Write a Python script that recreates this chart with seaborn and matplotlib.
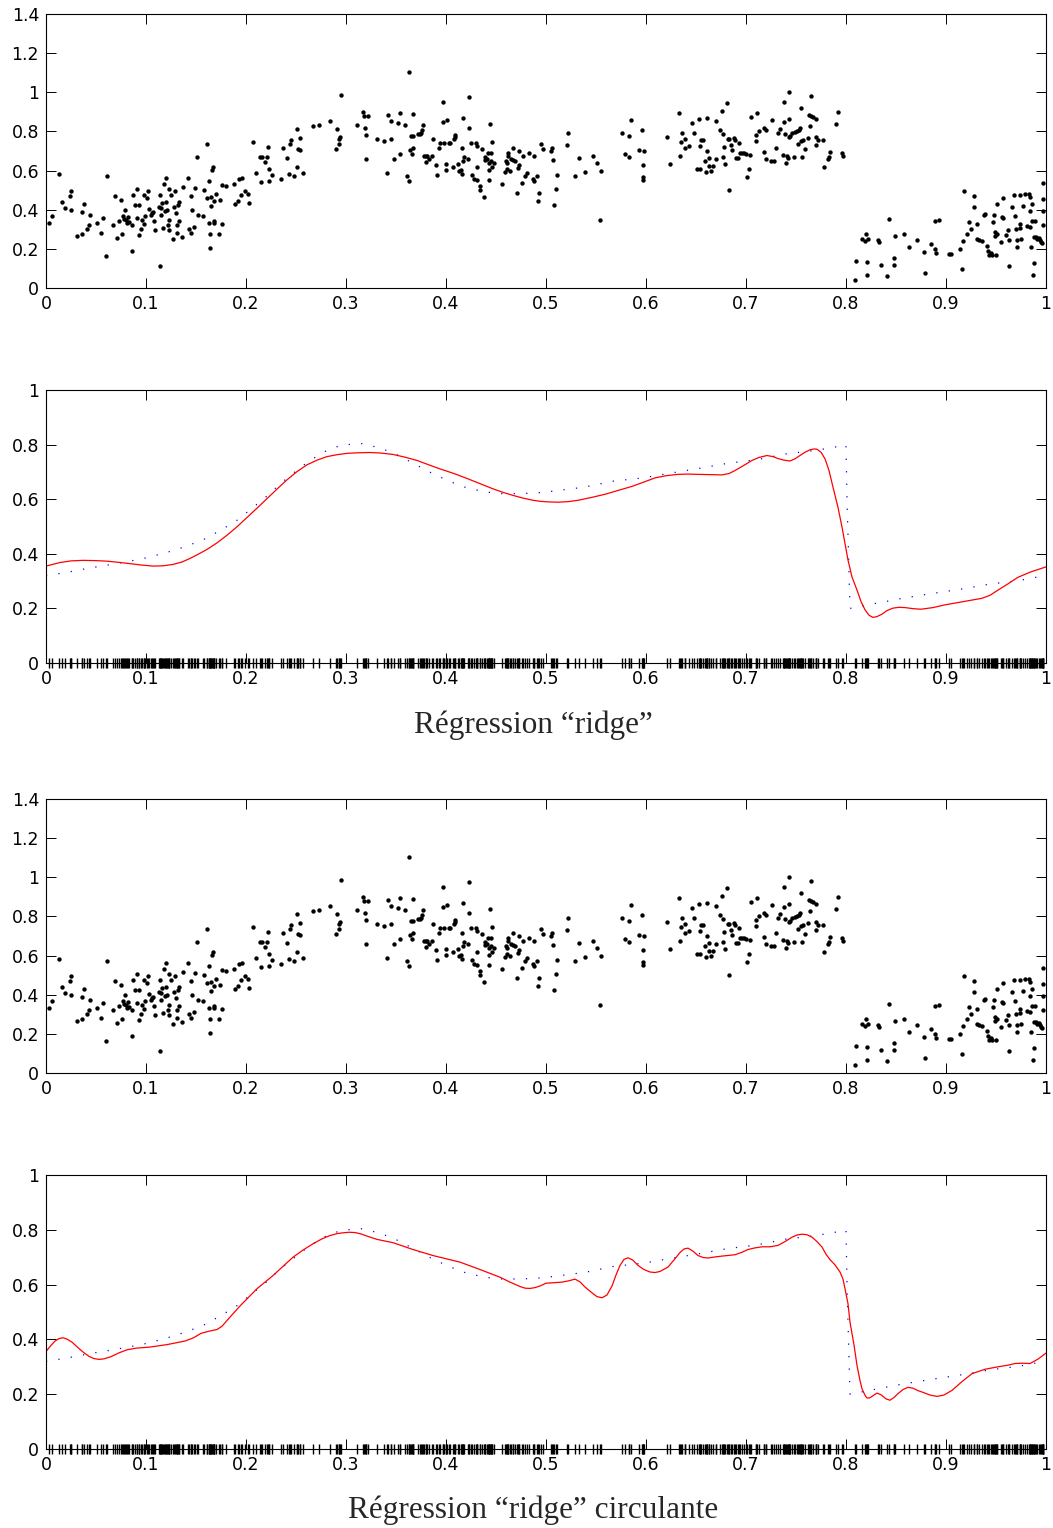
import numpy as np
import pandas as pd
import matplotlib
matplotlib.use("Agg")
from matplotlib import pyplot as plt
import seaborn as sns

sns.set_style("white")
plt.rcParams['font.family'] = ['DejaVu Sans']
plt.rcParams['axes.linewidth'] = 0.8

# noisy samples (x, y), left to right
pts_a = [(0.003,0.33),(0.006,0.37),(0.013,0.585),(0.016,0.44),(0.019,0.41),(0.024,0.47),(0.025,0.495),(0.025,0.40),
         (0.031,0.265),(0.036,0.275),(0.036,0.386),(0.038,0.43),(0.041,0.30),(0.043,0.32),(0.044,0.373),(0.051,0.33),
         (0.055,0.283),(0.057,0.357),(0.060,0.165),(0.061,0.574),(0.067,0.32),(0.069,0.468),(0.071,0.254),(0.073,0.34),
         (0.075,0.448),(0.076,0.276),(0.077,0.368),(0.078,0.354),(0.079,0.40),(0.080,0.347),(0.081,0.334),(0.082,0.361),
         (0.083,0.337),(0.086,0.323),(0.086,0.189),(0.087,0.477),(0.089,0.426),(0.091,0.507),(0.091,0.357),(0.093,0.426),
         (0.093,0.272),(0.095,0.30),(0.096,0.347),(0.098,0.474),(0.098,0.325),(0.099,0.368),(0.101,0.458),(0.102,0.497),
         (0.103,0.402),(0.105,0.373),(0.106,0.381),(0.107,0.388),(0.108,0.344),(0.109,0.296),(0.113,0.414),(0.114,0.112),
         (0.114,0.477),(0.115,0.409),(0.115,0.373),(0.116,0.436),(0.117,0.305),(0.118,0.531),(0.119,0.391),(0.120,0.562),
         (0.120,0.440),(0.121,0.397),(0.122,0.32),(0.123,0.507),(0.123,0.347),(0.123,0.296),(0.125,0.477),(0.127,0.252),
         (0.128,0.415),(0.129,0.494),(0.130,0.385),(0.131,0.32),(0.131,0.279),(0.132,0.426),(0.133,0.44),(0.133,0.34),
         (0.136,0.262),(0.137,0.514),(0.142,0.562),(0.143,0.30),(0.145,0.472),(0.145,0.279),(0.146,0.40),(0.148,0.313),
         (0.149,0.512),(0.151,0.667),(0.152,0.374),(0.157,0.366),(0.158,0.50),(0.161,0.737),(0.161,0.461),(0.163,0.334),
         (0.163,0.545),(0.164,0.204),(0.164,0.274),(0.165,0.463),(0.165,0.419),(0.166,0.601),(0.167,0.618),(0.168,0.344),
         (0.168,0.33),(0.168,0.443),(0.170,0.482),(0.173,0.276),(0.174,0.448),(0.176,0.327),(0.176,0.526),(0.180,0.523),
         (0.188,0.533),(0.189,0.429),(0.192,0.443),(0.193,0.559),(0.196,0.562),(0.195,0.474),(0.199,0.497),(0.202,0.48),
         (0.203,0.434)]
pts_b = [(0.207,0.747),(0.210,0.587),(0.214,0.667),(0.215,0.543),(0.216,0.667),(0.219,0.642),(0.221,0.667),(0.222,0.72),
         (0.223,0.609),(0.223,0.545),(0.226,0.577),(0.235,0.555),(0.237,0.717),(0.241,0.662),(0.243,0.584),(0.244,0.734),
         (0.245,0.757),(0.248,0.572),(0.251,0.812),(0.251,0.618),(0.252,0.708),(0.254,0.705),(0.254,0.766),(0.257,0.589),
         (0.267,0.829),(0.273,0.834),(0.284,0.851),(0.290,0.71),(0.291,0.81),(0.293,0.737),(0.293,0.761),(0.294,0.774),
         (0.295,0.986),(0.311,0.832),(0.317,0.90),(0.318,0.878),(0.319,0.819),(0.320,0.781),(0.320,0.657),(0.322,0.877),
         (0.331,0.761),(0.338,0.749),(0.341,0.589),(0.342,0.885),(0.345,0.853),(0.345,0.761),(0.348,0.657),(0.352,0.843),
         (0.354,0.684),(0.354,0.894),(0.359,0.834),(0.361,0.574),(0.363,0.548),(0.363,1.103),(0.364,0.706),(0.365,0.776),
         (0.366,0.684),(0.367,0.776),(0.367,0.888),(0.367,0.715),(0.372,0.785),(0.374,0.788),(0.375,0.79),(0.376,0.805),
         (0.377,0.834),(0.378,0.672),(0.380,0.674),(0.380,0.643),(0.381,0.676),(0.383,0.657),(0.386,0.674),(0.387,0.761),
         (0.390,0.628),(0.391,0.577),(0.393,0.713),(0.394,0.742),(0.397,0.848),(0.397,0.95),(0.398,0.739),(0.400,0.604),
         (0.400,0.635),(0.401,0.858),(0.403,0.74)]
pts_c = [(0.404,0.74),(0.407,0.618),(0.408,0.759),(0.409,0.773),(0.409,0.78),(0.412,0.633),(0.413,0.599),(0.415,0.601),
         (0.416,0.717),(0.416,0.584),(0.417,0.647),(0.417,0.868),(0.418,0.667),(0.422,0.66),(0.423,0.817),(0.423,0.974),
         (0.425,0.74),(0.426,0.579),(0.428,0.557),(0.430,0.739),(0.431,0.551),(0.431,0.62),(0.431,0.725),(0.434,0.523),
         (0.434,0.499),(0.436,0.708),(0.438,0.463),(0.439,0.652),(0.439,0.671),(0.441,0.66),(0.442,0.688),(0.443,0.551),
         (0.443,0.603),(0.443,0.64),(0.444,0.839),(0.445,0.688),(0.445,0.65),(0.446,0.747),(0.446,0.62),(0.448,0.64),
         (0.456,0.531),(0.459,0.592),(0.460,0.647),(0.461,0.606),(0.461,0.637),(0.462,0.674),(0.462,0.691),(0.464,0.599),
         (0.465,0.659),(0.467,0.717),(0.467,0.652),(0.469,0.647),(0.471,0.485),(0.472,0.614),(0.473,0.631),(0.473,0.701),
         (0.476,0.536),(0.477,0.676),(0.479,0.570),(0.481,0.586),(0.483,0.688),(0.487,0.555),(0.488,0.672),(0.488,0.548),
         (0.491,0.572),(0.492,0.444),(0.493,0.483),(0.495,0.735),(0.497,0.711),(0.505,0.701),(0.506,0.713),(0.507,0.654),
         (0.508,0.422),(0.510,0.507),(0.511,0.579),(0.521,0.730),(0.522,0.791),(0.529,0.574),(0.533,0.664),(0.539,0.594),
         (0.547,0.674),(0.551,0.640),(0.554,0.346),(0.555,0.599),(0.576,0.793),(0.579,0.684),(0.583,0.778),(0.583,0.667),
         (0.585,0.858),(0.593,0.706),(0.596,0.805),(0.597,0.550),(0.597,0.569),(0.597,0.628),(0.598,0.701)]
pts_d = [(0.621,0.774),(0.624,0.635),(0.633,0.894),(0.634,0.676),(0.635,0.744),(0.636,0.79),(0.639,0.715),(0.639,0.763),
         (0.643,0.725),(0.646,0.843),(0.648,0.791),(0.651,0.609),(0.653,0.863),(0.654,0.727),(0.654,0.609),(0.655,0.754),
         (0.657,0.754),(0.659,0.649),(0.660,0.591),(0.661,0.870),(0.661,0.701),(0.663,0.621),(0.663,0.662),(0.665,0.597),
         (0.667,0.621),(0.670,0.657),(0.670,0.853),(0.674,0.809),(0.676,0.906),(0.677,0.786),(0.677,0.669),(0.678,0.718),
         (0.679,0.633),(0.681,0.946),(0.682,0.761),(0.683,0.499),(0.683,0.761),(0.685,0.732),(0.686,0.703),(0.688,0.768),
         (0.689,0.757),(0.690,0.662),(0.692,0.664),(0.693,0.740),(0.694,0.691),(0.696,0.689),(0.698,0.688),(0.700,0.686),
         (0.701,0.567),(0.703,0.609),(0.704,0.681),(0.705,0.875),(0.710,0.752),(0.710,0.780),(0.711,0.895),(0.713,0.802),
         (0.718,0.815),(0.718,0.696),(0.720,0.657),(0.720,0.809),(0.725,0.647),(0.726,0.858),(0.728,0.647),(0.730,0.713),
         (0.732,0.793),(0.734,0.812),(0.737,0.681),(0.738,0.850),(0.738,0.950),(0.739,0.786),(0.740,0.637),(0.741,0.672),
         (0.742,0.662),(0.743,0.773),(0.743,1.003),(0.743,0.865),(0.744,0.776),(0.746,0.793),(0.748,0.669),(0.749,0.795),
         (0.751,0.800),(0.752,0.735),(0.753,0.809),(0.754,0.815),(0.755,0.919),(0.755,0.751),(0.756,0.669),(0.757,0.754),
         (0.759,0.711),(0.762,0.768),(0.764,0.827),(0.763,0.883),(0.765,0.980),(0.765,0.880),(0.767,0.875),(0.770,0.863),
         (0.770,0.774),(0.770,0.730),(0.772,0.754),(0.777,0.754),(0.778,0.616),(0.782,0.659),(0.783,0.671),(0.784,0.694),
         (0.790,0.839),(0.792,0.900),(0.796,0.688),(0.797,0.674)]
pts_e = [(0.809,0.041),(0.810,0.140),(0.816,0.249),(0.819,0.240),(0.820,0.274),(0.821,0.133),(0.821,0.066),(0.822,0.250),
         (0.832,0.243),(0.833,0.235),(0.835,0.119),(0.841,0.061),(0.843,0.354),(0.848,0.155),(0.848,0.116),(0.849,0.267),
         (0.858,0.274),(0.863,0.211),(0.871,0.245),(0.878,0.184),(0.879,0.078),(0.885,0.225),(0.889,0.201),(0.890,0.177),
         (0.889,0.340),(0.893,0.346),(0.903,0.175),(0.905,0.172),(0.914,0.201),(0.916,0.099),(0.917,0.240),(0.918,0.495),
         (0.921,0.274),(0.923,0.339),(0.925,0.30),(0.928,0.470),(0.928,0.414),(0.931,0.327),(0.931,0.252),(0.933,0.245),
         (0.936,0.240),(0.938,0.371),(0.939,0.380),(0.941,0.216),(0.942,0.191),(0.943,0.170),(0.945,0.180),(0.946,0.170),
         (0.947,0.339),(0.948,0.374),(0.949,0.288),(0.949,0.266),(0.950,0.170),(0.951,0.427),(0.951,0.276),(0.955,0.237),
         (0.956,0.364),(0.957,0.356),(0.957,0.460),(0.960,0.272),(0.962,0.294),(0.963,0.112),(0.963,0.247),(0.966,0.414),
         (0.968,0.475),(0.969,0.366),(0.970,0.30),(0.971,0.209),(0.971,0.247),(0.974,0.325),(0.974,0.305),(0.974,0.473),
         (0.975,0.249),(0.977,0.419),(0.979,0.479),(0.981,0.318),(0.983,0.479),(0.984,0.391),(0.984,0.463),(0.984,0.313),
         (0.985,0.211),(0.986,0.427),(0.986,0.340),(0.987,0.066),(0.988,0.259),(0.988,0.129),(0.989,0.344),(0.990,0.259),
         (0.991,0.252),(0.993,0.254),(0.994,0.245),(0.995,0.235),(0.996,0.231),(0.997,0.320),(0.997,0.456),(0.997,0.395),
         (0.997,0.534)]

# true function (blue dotted)
true_x = [0.0, 0.021, 0.042, 0.062, 0.081, 0.10, 0.12, 0.139, 0.157, 0.174, 0.19, 0.205, 0.219, 0.232, 0.246,
          0.261, 0.277, 0.295, 0.315, 0.334, 0.352, 0.369, 0.386, 0.403, 0.419, 0.438, 0.457, 0.478, 0.498,
          0.508, 0.538, 0.567, 0.597, 0.622, 0.652, 0.681, 0.711, 0.740, 0.770, 0.789, 0.800, 0.801,
          0.804, 0.825, 0.855, 0.885, 0.914, 0.944, 0.973, 0.993]
true_y = [0.32, 0.332, 0.347, 0.359, 0.371, 0.385, 0.404, 0.426, 0.451, 0.485, 0.52, 0.564, 0.605, 0.649, 0.692,
          0.734, 0.772, 0.798, 0.804, 0.788, 0.761, 0.728, 0.695, 0.666, 0.644, 0.627, 0.62, 0.621, 0.625,
          0.630, 0.644, 0.666, 0.678, 0.694, 0.712, 0.731, 0.745, 0.766, 0.779, 0.791, 0.799, 0.60,
          0.20, 0.215, 0.236, 0.254, 0.27, 0.289, 0.302, 0.316]

# ridge estimate (red, panel 2)
ridge_x = [0.0, 0.014, 0.025, 0.037, 0.05, 0.061, 0.072, 0.084, 0.095, 0.107, 0.117, 0.127, 0.136, 0.144, 0.152,
           0.161, 0.171, 0.181, 0.191, 0.201, 0.211, 0.221, 0.231, 0.241, 0.251, 0.261, 0.271, 0.281, 0.291,
           0.301, 0.312, 0.324, 0.335, 0.347, 0.359, 0.371, 0.382, 0.394, 0.408, 0.421, 0.434, 0.447, 0.457,
           0.467, 0.477, 0.487, 0.495, 0.503, 0.512, 0.522, 0.532, 0.545, 0.559, 0.572, 0.586, 0.598, 0.609,
           0.620, 0.632, 0.642, 0.652, 0.664, 0.676, 0.683, 0.689, 0.697, 0.706, 0.713, 0.721, 0.727, 0.732,
           0.738, 0.744, 0.749, 0.754, 0.759, 0.764, 0.768, 0.771, 0.775, 0.779, 0.783, 0.787, 0.792, 0.796,
           0.802, 0.806, 0.811, 0.815, 0.819, 0.823, 0.827, 0.831, 0.836, 0.841, 0.847, 0.853, 0.859, 0.867,
           0.875, 0.887, 0.899, 0.919, 0.936, 0.944, 0.952, 0.962, 0.972, 0.985, 1.0]
ridge_y = [0.355, 0.368, 0.374, 0.376, 0.375, 0.373, 0.369, 0.364, 0.359, 0.355, 0.356, 0.361, 0.370, 0.383, 0.398,
           0.416, 0.440, 0.468, 0.499, 0.533, 0.567, 0.602, 0.637, 0.671, 0.701, 0.726, 0.743, 0.756, 0.763,
           0.768, 0.770, 0.771, 0.769, 0.764, 0.754, 0.742, 0.727, 0.711, 0.694, 0.676, 0.657, 0.638, 0.625,
           0.614, 0.604, 0.596, 0.592, 0.590, 0.589, 0.591, 0.596, 0.606, 0.618, 0.632, 0.647, 0.663, 0.678,
           0.686, 0.691, 0.692, 0.691, 0.690, 0.689, 0.694, 0.705, 0.722, 0.742, 0.753, 0.760, 0.756, 0.749,
           0.743, 0.740, 0.748, 0.760, 0.772, 0.781, 0.784, 0.783, 0.772, 0.748, 0.705, 0.644, 0.570, 0.498,
           0.377, 0.315, 0.267, 0.225, 0.195, 0.175, 0.167, 0.170, 0.179, 0.192, 0.201, 0.204, 0.203, 0.199,
           0.197, 0.203, 0.213, 0.226, 0.237, 0.248, 0.267, 0.290, 0.314, 0.334, 0.352]

# circulant ridge estimate (red, panel 4)
circ_x = [0.0, 0.005, 0.009, 0.013, 0.017, 0.021, 0.026, 0.031, 0.037, 0.043, 0.048, 0.053, 0.058, 0.065, 0.073,
          0.081, 0.09, 0.104, 0.121, 0.139, 0.147, 0.155, 0.163, 0.171, 0.176, 0.181, 0.194, 0.211, 0.227,
          0.247, 0.257, 0.267, 0.276, 0.284, 0.291, 0.297, 0.303, 0.309, 0.315, 0.321, 0.331, 0.347, 0.367,
          0.387, 0.414, 0.434, 0.454, 0.464, 0.474, 0.479, 0.484, 0.489, 0.494, 0.50, 0.508, 0.516, 0.523,
          0.529, 0.534, 0.539, 0.546, 0.551, 0.556, 0.561, 0.566, 0.570, 0.574, 0.578, 0.582, 0.587, 0.592,
          0.598, 0.604, 0.609, 0.614, 0.622, 0.628, 0.634, 0.638, 0.642, 0.647, 0.652, 0.657, 0.662, 0.669,
          0.676, 0.689, 0.696, 0.702, 0.709, 0.716, 0.724, 0.732, 0.739, 0.746, 0.751, 0.756, 0.761, 0.766,
          0.771, 0.776, 0.780, 0.784, 0.789, 0.794, 0.797, 0.799, 0.802, 0.804, 0.808, 0.811, 0.814, 0.816,
          0.819, 0.821, 0.824, 0.828, 0.831, 0.835, 0.840, 0.844, 0.848, 0.852, 0.857, 0.862, 0.867, 0.872,
          0.876, 0.884, 0.891, 0.898, 0.906, 0.916, 0.926, 0.939, 0.952, 0.962, 0.969, 0.976, 0.984, 0.992, 1.0]
circ_y = [0.356, 0.378, 0.394, 0.403, 0.406, 0.401, 0.39, 0.373, 0.354, 0.338, 0.330, 0.327, 0.329, 0.337, 0.351,
          0.362, 0.368, 0.372, 0.381, 0.394, 0.405, 0.422, 0.430, 0.436, 0.448, 0.469, 0.522, 0.585, 0.633,
          0.70, 0.726, 0.749, 0.767, 0.779, 0.786, 0.789, 0.791, 0.790, 0.785, 0.777, 0.765, 0.753, 0.728,
          0.706, 0.682, 0.655, 0.627, 0.609, 0.593, 0.587, 0.586, 0.589, 0.595, 0.605, 0.607, 0.609, 0.614,
          0.62, 0.610, 0.591, 0.570, 0.556, 0.552, 0.562, 0.595, 0.635, 0.67, 0.692, 0.698, 0.689, 0.670,
          0.655, 0.646, 0.644, 0.648, 0.664, 0.690, 0.717, 0.730, 0.733, 0.722, 0.706, 0.699, 0.697, 0.701,
          0.704, 0.709, 0.718, 0.728, 0.734, 0.738, 0.738, 0.743, 0.757, 0.773, 0.781, 0.784, 0.782, 0.773,
          0.757, 0.737, 0.711, 0.691, 0.672, 0.646, 0.620, 0.585, 0.53, 0.463, 0.38, 0.305, 0.25, 0.22,
          0.196, 0.186, 0.187, 0.197, 0.204, 0.198, 0.183, 0.178, 0.188, 0.202, 0.217, 0.225, 0.222, 0.213,
          0.208, 0.197, 0.192, 0.197, 0.214, 0.246, 0.275, 0.291, 0.30, 0.306, 0.312, 0.313, 0.312, 0.328, 0.35]

xticks = [0, 0.1, 0.2, 0.3, 0.4, 0.5, 0.6, 0.7, 0.8, 0.9, 1]
xlabels = ['0', '0.1', '0.2', '0.3', '0.4', '0.5', '0.6', '0.7', '0.8', '0.9', '1']
yticks_data = [0, 0.2, 0.4, 0.6, 0.8, 1, 1.2, 1.4]
ylabels_data = ['0', '0.2', '0.4', '0.6', '0.8', '1', '1.2', '1.4']
yticks_fit = [0, 0.2, 0.4, 0.6, 0.8, 1]
ylabels_fit = ['0', '0.2', '0.4', '0.6', '0.8', '1']
captions = ['Régression “ridge”', 'Régression “ridge” circulante']

samples = pd.DataFrame(pts_a + pts_b + pts_c + pts_d + pts_e, columns=['x', 'y'])
truth = pd.DataFrame({'x': true_x, 'y': true_y})
fits = [pd.DataFrame({'x': ridge_x, 'y': ridge_y}), pd.DataFrame({'x': circ_x, 'y': circ_y})]

W, H = 1053, 1528
fig = plt.figure(figsize=(W / 100, H / 100), dpi=100)


def style_axes(ax, yt, yl):
    ax.set_xlim(0, 1)
    ax.set_xticks(xticks)
    ax.set_xticklabels(xlabels)
    ax.set_yticks(yt)
    ax.set_yticklabels(yl)
    ax.set_ylim(yt[0], yt[-1])
    ax.tick_params(direction='in', top=True, right=True, bottom=True, left=True,
                   length=7.5, width=0.7, labelsize=12.5, colors='k')
    ax.tick_params(axis='x', pad=5)
    ax.tick_params(axis='y', pad=5)
    ax.set_xlabel('')
    ax.set_ylabel('')
    for s in ax.spines.values():
        s.set_color('k')
        s.set_linewidth(0.8)


def axes_box(top_px, bottom_px):
    return fig.add_axes([46 / W, 1 - bottom_px / H, 1000 / W, (bottom_px - top_px) / H])


panels = [(14, 288, 390, 663, 725), (799, 1073, 1175, 1449, 1510)]
for k, (t1, b1, t2, b2, cy) in enumerate(panels):
    # scatter of the noisy samples
    ax = axes_box(t1, b1)
    sns.scatterplot(data=samples, x='x', y='y', color='k', s=10, linewidth=0, ax=ax)
    style_axes(ax, yticks_data, ylabels_data)

    # true function + estimate + rug of sample positions
    ax = axes_box(t2, b2)
    sns.lineplot(data=truth, x='x', y='y', color='#0000ff', lw=0.9, linestyle=(0, (1, 9)),
                 sort=False, estimator=None, ax=ax)
    sns.lineplot(data=fits[k], x='x', y='y', color='#ff0000', lw=0.9, sort=False, estimator=None, ax=ax)
    sns.rugplot(data=samples, x='x', height=0.018, color='k', lw=0.7, clip_on=False,
                expand_margins=False, ax=ax)
    sns.rugplot(data=samples, x='x', height=-0.018, color='k', lw=0.7, clip_on=False,
                expand_margins=False, ax=ax)
    style_axes(ax, yticks_fit, ylabels_fit)

    fig.text(533.5 / W, 1 - cy / H, captions[k], ha='center', va='center',
             fontsize=22.5, family=['Liberation Serif', 'DejaVu Serif'])

plt.savefig('out.png', dpi=100)
